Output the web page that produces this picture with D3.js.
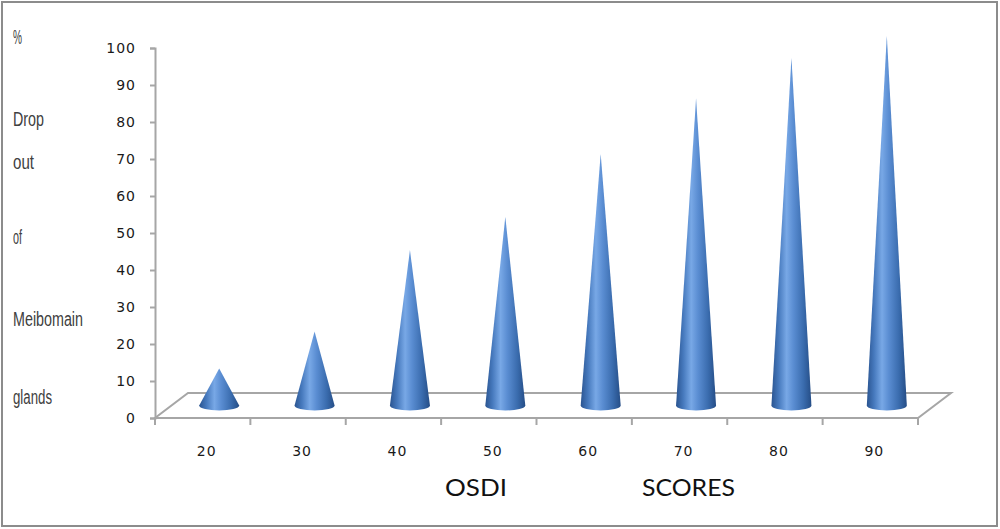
<!DOCTYPE html>
<html><head><meta charset="utf-8">
<script src="https://cdn.jsdelivr.net/npm/d3@7"></script>
<style>html,body{margin:0;padding:0;background:#fff;}svg{display:block;}</style>
</head><body>
<svg id="chart" width="1000" height="529"></svg>
<script>
const categories = ["20","30","40","50","60","70","80","90"];
const values = [10, 20, 42, 51, 68, 83, 94, 100];
const yTicks = [0,10,20,30,40,50,60,70,80,90,100];
const yLabelWords = ["%","Drop","out","of","Meibomain","glands"];
const xTitleWords = ["OSDI","SCORES"];

(function(){
const svg = d3.select("#chart");
const W = 1000, H = 529;
const pLeft = 155, pRight = 918, pBottom = 418, pTop = 48;
const depthX = 33, depthY = -25;

svg.append("rect").attr("x",2).attr("y",2).attr("width",W-5).attr("height",H-5)
  .attr("fill","#fff").attr("stroke","#8c8c8c").attr("stroke-width",2);

const y = d3.scaleLinear().domain([0,100]).range([pBottom, pTop]);
const x = d3.scaleBand().domain(categories).range([pLeft, pRight]).padding(0);

const defs = svg.append("defs");
const g = defs.append("linearGradient").attr("id","coneGrad").attr("x1","0").attr("x2","1").attr("y1","0").attr("y2","0");
[[0,"#2a5490"],[0.18,"#4679bd"],[0.38,"#78a8e6"],[0.55,"#5a8dd2"],[0.8,"#3a6cae"],[1,"#254d86"]]
  .forEach(([o,c])=>g.append("stop").attr("offset",o).attr("stop-color",c));

const floorColor = "#a6a6a6";
const floor = svg.append("g").attr("stroke",floorColor).attr("stroke-width",2).attr("fill","none");
floor.append("path").attr("d",
  `M${pLeft},${pBottom} L${pRight},${pBottom} L${pRight+depthX},${pBottom+depthY} L${pLeft+depthX},${pBottom+depthY} Z`);

const yAxis = d3.axisLeft(y).tickValues(yTicks).tickSize(5).tickPadding(14);
const ya = svg.append("g").attr("transform",`translate(${pLeft},0)`).call(yAxis);
ya.select(".domain").attr("stroke",floorColor).attr("stroke-width",2);
ya.selectAll(".tick line").attr("stroke",floorColor).attr("stroke-width",2);
ya.selectAll(".tick text").attr("font-family","DejaVu Sans, Verdana, sans-serif")
  .attr("font-size",14).attr("fill","#1a1a1a").attr("letter-spacing",1);

const xAxis = d3.axisBottom(x).tickSize(0).tickPadding(28);
const xa = svg.append("g").attr("transform",`translate(0,${pBottom})`).call(xAxis);
xa.select(".domain").remove();
xa.selectAll(".tick text").attr("font-family","DejaVu Sans, Verdana, sans-serif")
  .attr("font-size",14).attr("fill","#1a1a1a").attr("letter-spacing",1).attr("dx",4);
const bounds = categories.map(c=>x(c)).concat([x(categories[categories.length-1])+x.bandwidth()]);
svg.append("g").selectAll("line").data(bounds).join("line")
  .attr("x1",d=>d).attr("x2",d=>d).attr("y1",pBottom).attr("y2",pBottom+7)
  .attr("stroke",floorColor).attr("stroke-width",2);

const rx = 20, ry = 5;
const cones = svg.append("g");
categories.forEach((c,i)=>{
  const cx = x(c) + x.bandwidth()/2 + depthX/2;
  const by = y(0) + depthY/2;
  const apexY = y(values[i]) + depthY/2;
  cones.append("path")
    .attr("d",`M${cx},${apexY} L${cx-rx},${by} A${rx},${ry} 0 0 0 ${cx+rx},${by} Z`)
    .attr("fill","url(#coneGrad)");
});

const yWordY = [37,119,162,237,319,397];
const yWordW = [9,31,21,9,70,39];
svg.append("g").selectAll("text").data(yLabelWords).join("text")
  .attr("x",13).attr("y",(d,i)=>yWordY[i]).attr("dy","0.35em")
  .attr("font-family","Liberation Sans Narrow, Liberation Sans, Arial, sans-serif")
  .attr("font-size",20).attr("fill","#404040")
  .attr("textLength",(d,i)=>yWordW[i]).attr("lengthAdjust","spacingAndGlyphs")
  .text(d=>d);

const titleX = [445,642], titleW = [62,93];
svg.append("g").selectAll("text").data(xTitleWords).join("text")
  .attr("x",(d,i)=>titleX[i]).attr("y",488).attr("dy","0.35em")
  .attr("font-family","Lato, Open Sans, sans-serif").attr("font-size",23).attr("fill","#111")
  .attr("textLength",(d,i)=>titleW[i]).attr("lengthAdjust","spacingAndGlyphs")
  .text(d=>d);
})();
</script>
</body></html>
